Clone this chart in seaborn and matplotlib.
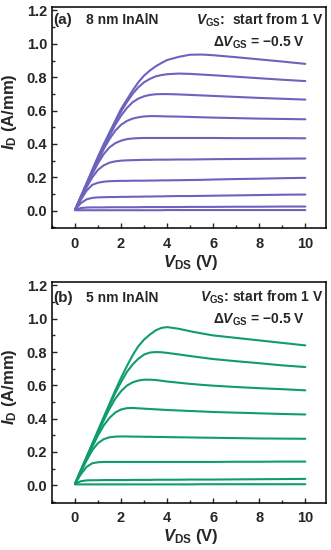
import matplotlib
matplotlib.use("Agg")
import matplotlib.pyplot as plt
from matplotlib.ticker import MultipleLocator
import seaborn as sns
import pandas as pd

sns.set_theme(style="ticks")
plt.rcParams["font.family"] = ["Liberation Sans", "DejaVu Sans"]
plt.rcParams["font.weight"] = "bold"
plt.rcParams["mathtext.fontset"] = "custom"
plt.rcParams["mathtext.rm"] = "Liberation Sans:bold"
plt.rcParams["mathtext.it"] = "Liberation Sans:italic:bold"
plt.rcParams["mathtext.bf"] = "Liberation Sans:bold"

vds = [0, 0.25, 0.5, 0.75, 1.0, 1.25, 1.5, 1.75, 2.0, 2.25, 2.5, 2.75, 3.0,
       3.25, 3.5, 3.75, 4.0, 4.5, 5.0, 5.5, 6, 7, 8, 9, 10]

# (a) 8 nm InAlN, I_D (A/mm), VGS = 1 V down to -3.5 V in -0.5 V steps
id_8nm = [
    [0.005, 0.085, 0.165, 0.245, 0.325, 0.40, 0.47, 0.54, 0.61, 0.665, 0.72, 0.77, 0.81, 0.84, 0.865, 0.885, 0.903, 0.922, 0.935, 0.936, 0.932, 0.92, 0.907, 0.894, 0.88],
    [0.005, 0.083, 0.16, 0.24, 0.317, 0.39, 0.46, 0.53, 0.595, 0.65, 0.70, 0.74, 0.77, 0.79, 0.805, 0.813, 0.818, 0.822, 0.82, 0.816, 0.812, 0.803, 0.794, 0.785, 0.777],
    [0.005, 0.08, 0.157, 0.233, 0.308, 0.38, 0.45, 0.515, 0.57, 0.615, 0.65, 0.672, 0.686, 0.694, 0.698, 0.699, 0.699, 0.697, 0.694, 0.691, 0.688, 0.682, 0.676, 0.671, 0.666],
    [0.005, 0.078, 0.153, 0.228, 0.30, 0.37, 0.43, 0.48, 0.515, 0.538, 0.552, 0.56, 0.565, 0.567, 0.567, 0.566, 0.565, 0.564, 0.562, 0.56, 0.558, 0.555, 0.552, 0.55, 0.548],
    [0.005, 0.075, 0.148, 0.22, 0.285, 0.34, 0.38, 0.405, 0.42, 0.429, 0.433, 0.435, 0.436, 0.436, 0.436, 0.436, 0.436, 0.436, 0.436, 0.436, 0.436, 0.435, 0.435, 0.435, 0.434],
    [0.005, 0.07, 0.14, 0.20, 0.245, 0.272, 0.288, 0.296, 0.30, 0.302, 0.303, 0.304, 0.305, 0.305, 0.306, 0.306, 0.306, 0.307, 0.307, 0.308, 0.309, 0.31, 0.311, 0.312, 0.313],
    [0.005, 0.065, 0.12, 0.155, 0.168, 0.174, 0.177, 0.178, 0.179, 0.179, 0.18, 0.18, 0.18, 0.181, 0.181, 0.182, 0.182, 0.183, 0.184, 0.185, 0.187, 0.19, 0.192, 0.195, 0.197],
    [0.005, 0.045, 0.068, 0.077, 0.08, 0.081, 0.082, 0.082, 0.083, 0.083, 0.084, 0.084, 0.085, 0.085, 0.086, 0.086, 0.087, 0.088, 0.088, 0.089, 0.09, 0.092, 0.094, 0.096, 0.097],
    [0.005, 0.016, 0.019, 0.02, 0.02, 0.02, 0.021, 0.021, 0.021, 0.021, 0.021, 0.021, 0.022, 0.022, 0.022, 0.022, 0.022, 0.022, 0.023, 0.023, 0.023, 0.024, 0.024, 0.025, 0.025],
    [0.003, 0.003, 0.003, 0.003, 0.003, 0.003, 0.003, 0.003, 0.003, 0.003, 0.003, 0.003, 0.003, 0.003, 0.003, 0.003, 0.004, 0.004, 0.004, 0.004, 0.004, 0.004, 0.004, 0.004, 0.004],
]

# (b) 5 nm InAlN
id_5nm = [
    [0.008, 0.09, 0.17, 0.25, 0.33, 0.41, 0.49, 0.57, 0.645, 0.715, 0.78, 0.835, 0.875, 0.905, 0.93, 0.945, 0.95, 0.94, 0.925, 0.912, 0.90, 0.885, 0.87, 0.855, 0.84],
    [0.008, 0.088, 0.167, 0.245, 0.325, 0.405, 0.48, 0.555, 0.62, 0.68, 0.725, 0.76, 0.785, 0.797, 0.80, 0.799, 0.795, 0.786, 0.776, 0.767, 0.758, 0.745, 0.733, 0.72, 0.71],
    [0.008, 0.086, 0.163, 0.24, 0.318, 0.39, 0.46, 0.52, 0.565, 0.598, 0.618, 0.629, 0.634, 0.634, 0.632, 0.628, 0.623, 0.616, 0.609, 0.603, 0.598, 0.59, 0.583, 0.577, 0.57],
    [0.008, 0.083, 0.158, 0.23, 0.30, 0.36, 0.405, 0.437, 0.455, 0.463, 0.464, 0.462, 0.46, 0.458, 0.456, 0.454, 0.452, 0.449, 0.446, 0.443, 0.44, 0.436, 0.432, 0.428, 0.425],
    [0.008, 0.078, 0.148, 0.21, 0.253, 0.277, 0.288, 0.292, 0.293, 0.293, 0.292, 0.292, 0.291, 0.291, 0.29, 0.29, 0.289, 0.288, 0.287, 0.286, 0.285, 0.283, 0.281, 0.28, 0.279],
    [0.008, 0.065, 0.11, 0.132, 0.138, 0.14, 0.14, 0.14, 0.14, 0.14, 0.14, 0.14, 0.14, 0.14, 0.14, 0.14, 0.14, 0.14, 0.14, 0.14, 0.14, 0.141, 0.141, 0.142, 0.142],
    [0.008, 0.024, 0.029, 0.03, 0.03, 0.031, 0.031, 0.031, 0.031, 0.031, 0.032, 0.032, 0.032, 0.032, 0.033, 0.033, 0.033, 0.033, 0.034, 0.034, 0.034, 0.035, 0.036, 0.037, 0.038],
    [0.005, 0.005, 0.005, 0.005, 0.005, 0.005, 0.005, 0.005, 0.005, 0.005, 0.005, 0.005, 0.005, 0.005, 0.005, 0.005, 0.005, 0.005, 0.005, 0.006, 0.006, 0.006, 0.006, 0.006, 0.006],
]

panels = [
    ("(a)", "8 nm InAlN", id_8nm, "#6C63BD", r"$V_{\rm GS}$:  start from 1 V", 0.94, 0.84),
    ("(b)", "5 nm InAlN", id_5nm, "#109C70", r"$V_{\rm GS}$: start from 1 V", 0.93, 0.83),
]


def to_long(curves):
    rows = []
    for i, ys in enumerate(curves):
        for x, y in zip(vds, ys):
            rows.append({"curve": i, "vds": x, "id": y})
    return pd.DataFrame(rows)


fig = plt.figure(figsize=(3.31, 5.5), dpi=100)
axes = [fig.add_axes([0.157, 0.585, 0.828, 0.402]),
        fig.add_axes([0.157, 0.086, 0.828, 0.401])]

for ax, (tag, name, curves, color, vgs_text, y1, y2) in zip(axes, panels):
    df = to_long(curves)
    sns.lineplot(data=df, x="vds", y="id", units="curve", estimator=None,
                 color=color, linewidth=1.5, ax=ax, legend=False)

    ax.set_xlim(-1, 10.9)
    ax.set_ylim(-0.105, 1.22)
    ax.xaxis.set_major_locator(MultipleLocator(2))
    ax.xaxis.set_minor_locator(MultipleLocator(1))
    ax.yaxis.set_major_locator(MultipleLocator(0.2))
    ax.yaxis.set_minor_locator(MultipleLocator(0.1))
    ax.tick_params(which="both", direction="in", top=False, right=False,
                   labelsize=10.5, width=1)
    ax.tick_params(axis="x", pad=6)
    ax.tick_params(axis="y", pad=3.5)
    ax.tick_params(which="major", length=3.5)
    ax.tick_params(which="minor", length=2)
    for lab in ax.get_xticklabels() + ax.get_yticklabels():
        lab.set_fontweight("bold")
    for sp in ax.spines.values():
        sp.set_visible(True)
        sp.set_linewidth(1.1)
        sp.set_color("black")

    ax.set_xlabel(r"$V_{\rm DS}$ (V)", fontsize=12, fontweight="bold")
    ax.set_ylabel(r"$I_{\rm D}$ (A/mm)", fontsize=12, fontweight="bold")
    ax.xaxis.set_label_coords(0.505, -0.11)
    ax.yaxis.set_label_coords(-0.12, 0.525)

    ax.text(0.003, y1, tag, transform=ax.transAxes, fontsize=11,
            fontweight="bold", ha="left", va="center")
    ax.text(0.124, y1, name, transform=ax.transAxes, fontsize=10,
            fontweight="bold", ha="left", va="center")
    ax.text(0.989, y1, vgs_text, transform=ax.transAxes, fontsize=10,
            fontweight="bold", ha="right", va="center")
    ax.text(0.922, y2, "Δ" + r"$V_{\rm GS}$" + " = \u22120.5 V", transform=ax.transAxes,
            fontsize=10, fontweight="bold", ha="right", va="center")

fig.savefig("out.png", dpi=100)
